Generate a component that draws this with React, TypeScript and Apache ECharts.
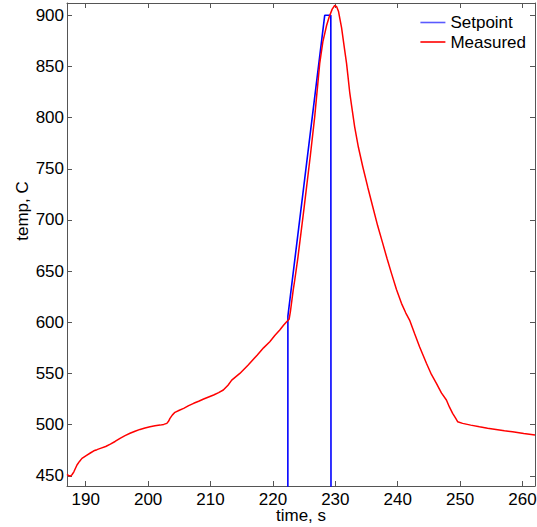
import React, { useEffect, useRef } from "react";
import * as echarts from "echarts";

const xTicks = [190, 200, 210, 220, 230, 240, 250, 260];
const yTicks = [450, 500, 550, 600, 650, 700, 750, 800, 850, 900];

const setpointTime = [187, 222.38, 222.4, 228.3, 229.28, 229.33, 262];
const setpointTemp = [0, 0, 606, 900, 900, 0, 0];

const measuredTime = [
  187.0, 187.3, 187.55, 187.8, 188.1, 188.6, 189.0, 189.4, 190.2, 190.8, 191.3, 191.8,
  192.35, 193.2, 193.95, 194.7, 195.5, 196.3, 197.1, 197.9, 198.7, 199.5, 200.3, 201.1,
  201.9, 202.5, 203.0, 203.3, 203.5, 203.9, 204.3, 205.0, 205.7, 206.5, 207.3, 208.1,
  208.9, 209.7, 210.5, 211.3, 212.05, 212.8, 213.4, 214.7, 216.0, 217.5, 218.5, 219.5,
  220.3, 221.1, 221.7, 222.2, 222.6, 222.8, 223.25, 223.5, 224.0, 225.0, 226.0, 226.7,
  227.5, 228.0, 228.6, 229.0, 229.5, 229.9, 230.2, 230.5, 231.0, 231.5, 231.8, 232.0,
  232.3, 232.6, 233.1, 233.7, 234.4, 235.2, 236.0, 236.8, 237.6, 238.3, 239.0, 239.8,
  240.6, 241.3, 241.9, 242.7, 243.5, 244.6, 245.4, 246.2, 247.0, 247.8, 248.3, 248.8,
  249.3, 249.6, 250.4, 251.7, 253.1, 254.4, 255.75, 257.1, 258.4, 260.2, 262.0,
];
const measuredTemp = [
  451.4, 450.0, 449.7, 451.0, 453.9, 460.5, 464.0, 467.0, 470.2, 472.5, 474.4, 475.5,
  476.8, 478.6, 481.0, 483.5, 486.6, 489.2, 491.5, 493.5, 495.3, 496.7, 497.9, 498.8,
  499.5, 500.2, 501.2, 503.5, 506.1, 509.5, 512.0, 514.0, 515.9, 518.5, 520.8, 522.8,
  525.0, 527.0, 528.9, 531.3, 533.8, 538.5, 543.5, 550.0, 558.0, 568.0, 575.0, 581.0,
  587.0, 592.4, 597.0, 600.5, 603.0, 610.3, 631.5, 641.3, 663.0, 712.0, 763.0, 800.9,
  853.0, 874.0, 890.0, 898.0, 906.0, 909.6, 908.5, 904.0, 888.0, 866.0, 853.0, 842.0,
  825.0, 812.0, 791.0, 771.0, 752.0, 732.0, 712.9, 694.0, 677.1, 662.0, 647.8, 632.0,
  618.5, 609.0, 602.2, 589.0, 576.1, 559.9, 549.0, 540.3, 531.0, 524.0, 517.0, 511.0,
  506.0, 502.8, 501.2, 499.5, 497.9, 496.5, 495.3, 494.1, 493.0, 491.4, 489.9,
];

const FONT = "'Liberation Sans', Arial, sans-serif";
const AXIS_COLOR = "#555555";

export default function App() {
  const ref = useRef<HTMLDivElement>(null);

  useEffect(() => {
    if (!ref.current) return;
    const chart = echarts.init(ref.current, null, { renderer: "svg" });

    const baseX = {
      type: "value",
      min: 187,
      max: 262,
      gridIndex: 0,
      splitLine: { show: false },
      axisLine: { show: true, lineStyle: { color: AXIS_COLOR, width: 1 } },
      axisTick: {
        show: true,
        inside: true,
        length: 5,
        customValues: xTicks,
        lineStyle: { color: AXIS_COLOR },
      },
    };
    const baseY = {
      type: "value",
      min: 440,
      max: 912,
      gridIndex: 0,
      splitLine: { show: false },
      axisLine: { show: true, lineStyle: { color: AXIS_COLOR, width: 1 } },
      axisTick: {
        show: true,
        inside: true,
        length: 5,
        customValues: yTicks,
        lineStyle: { color: AXIS_COLOR },
      },
    };

    chart.setOption({
      animation: false,
      backgroundColor: "#ffffff",
      textStyle: { fontFamily: FONT },
      grid: {
        left: 67,
        right: 2,
        top: 3,
        bottom: 41,
        containLabel: false,
        outerBoundsMode: "none",
      },
      legend: {
        orient: "vertical",
        right: 6,
        top: 9,
        itemWidth: 25,
        itemHeight: 14,
        itemGap: 2.5,
        align: "left",
        selectedMode: false,
        itemStyle: { opacity: 0 },
        lineStyle: { width: 1.6 },
        textStyle: { fontSize: 17, color: "#000000", fontFamily: FONT },
        data: [
          { name: "Setpoint", lineStyle: { color: "#5a5aff" } },
          { name: "Measured" },
        ],
      },
      xAxis: [
        {
          ...baseX,
          position: "bottom",
          axisLabel: {
            show: true,
            customValues: xTicks,
            margin: 5,
            fontSize: 17,
            color: "#000000",
            fontFamily: FONT,
          },
        },
        {
          ...baseX,
          position: "top",
          axisLabel: { show: false },
        },
      ],
      yAxis: [
        {
          ...baseY,
          position: "left",
          axisLabel: {
            show: true,
            customValues: yTicks,
            margin: 3,
            fontSize: 17,
            color: "#000000",
            fontFamily: FONT,
          },
        },
        {
          ...baseY,
          position: "right",
          axisLabel: { show: false },
        },
      ],
      graphic: [
        {
          type: "text",
          x: 22,
          y: 211,
          rotation: Math.PI / 2,
          style: {
            text: "temp, C",
            fontSize: 17,
            fontFamily: FONT,
            fill: "#000000",
            align: "center",
            verticalAlign: "middle",
          },
        },
        {
          type: "text",
          x: 301,
          y: 515,
          style: {
            text: "time, s",
            fontSize: 17,
            fontFamily: FONT,
            fill: "#000000",
            align: "center",
            verticalAlign: "middle",
          },
        },
      ],
      series: [
        {
          name: "Setpoint",
          type: "line",
          xAxisIndex: 0,
          yAxisIndex: 0,
          symbol: "none",
          clip: true,
          lineStyle: { color: "#0000ff", width: 1.6 },
          itemStyle: { color: "#0000ff" },
          data: setpointTime.map((t, i) => [t, setpointTemp[i]]),
        },
        {
          name: "Measured",
          type: "line",
          xAxisIndex: 0,
          yAxisIndex: 0,
          symbol: "none",
          clip: true,
          lineStyle: { color: "#ff0000", width: 1.5 },
          itemStyle: { color: "#ff0000" },
          data: measuredTime.map((t, i) => [t, measuredTemp[i]]),
        },
      ],
    });

    return () => chart.dispose();
  }, []);

  return (
    <div
      ref={ref}
      style={{ position: "fixed", left: 0, top: 0, width: 537, height: 527, background: "#fff" }}
    />
  );
}
